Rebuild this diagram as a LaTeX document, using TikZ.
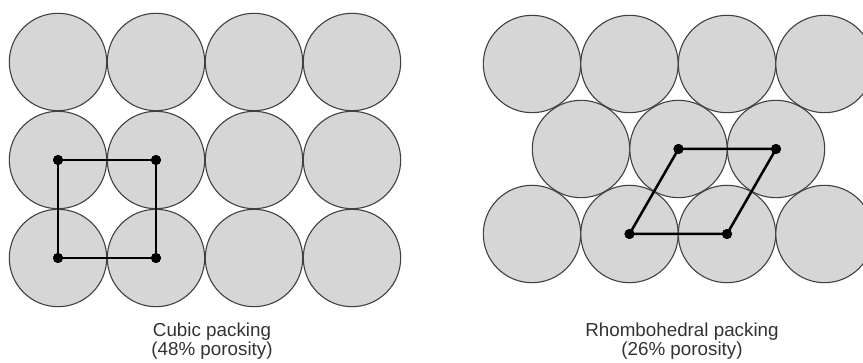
\documentclass[tikz,border=0pt]{standalone}
\usepackage{fontspec}
\setmainfont{Liberation Sans}
\definecolor{ballfill}{RGB}{214,214,214}
\definecolor{balledge}{RGB}{65,65,65}
\definecolor{captext}{RGB}{50,50,50}
\begin{document}
\begin{tikzpicture}[x=1pt,y=1pt,
  ball/.style={circle, draw=balledge, fill=ballfill, line width=1.1pt, minimum size=97.4pt, inner sep=0pt, outer sep=0pt},
  latt/.style={line width=2.5pt, black},
  dot/.style={circle, fill=black, minimum size=10pt, inner sep=0pt},
  caption/.style={text=captext, font=\fontsize{18.8}{18.5}\selectfont, align=center, inner sep=0pt}]
\clip (0,0) rectangle (863,362);
% cubic packing
\foreach \i/\x in {1/58,2/156,3/254,4/352}{
  \foreach \j/\y in {1/300,2/202,3/104}{
    \node[ball] (c\j\i) at (\x,\y) {};
  }}
% rhombohedral packing
\foreach \i in {1,2,3,4}{
  \node[ball] (t\i) at ({532+97.5*(\i-1)},298) {};
  \node[ball] (b\i) at ({532+97.5*(\i-1)},128) {};
}
\foreach \i in {1,2,3}{
  \node[ball] (m\i) at ({581+97.5*(\i-1)},213) {};
}
% square cell
\node[dot] (s1) at (c21.center) {};
\node[dot] (s2) at (c22.center) {};
\node[dot] (s3) at (c32.center) {};
\node[dot] (s4) at (c31.center) {};
\draw[latt] (s1.center) -- (s2.center) -- (s3.center) -- (s4.center) -- cycle;
% rhombic cell
\node[dot] (r1) at (m2.center) {};
\node[dot] (r2) at (m3.center) {};
\node[dot] (r3) at (b3.center) {};
\node[dot] (r4) at (b2.center) {};
\draw[latt] (r1.center) -- (r2.center) -- (r3.center) -- (r4.center) -- cycle;
\foreach \n in {s1,s2,s3,s4,r1,r2,r3,r4}{\node[dot] at (\n) {};}
% captions
\node[caption, anchor=base] (capL) at (212,7) {Cubic packing\\(48\% porosity)};
\node[caption, anchor=base] (capR) at (682,7) {Rhombohedral packing\\(26\% porosity)};
\end{tikzpicture}
\end{document}
